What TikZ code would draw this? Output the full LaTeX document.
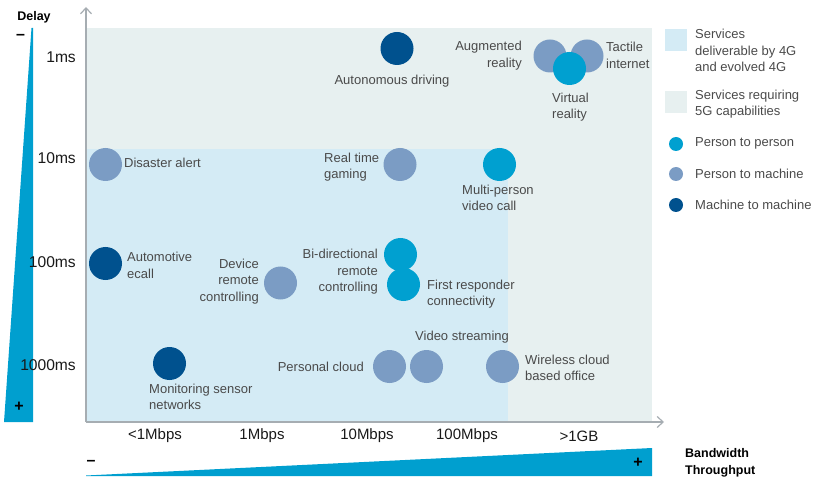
\documentclass[tikz,border=0pt]{standalone}
\usepackage{fontspec}
\setmainfont{Liberation Sans}
\usetikzlibrary{arrows.meta}
\definecolor{cPP}{HTML}{00A0D0}
\definecolor{cPM}{HTML}{7B9CC4}
\definecolor{cMM}{HTML}{00518E}
\definecolor{cTri}{HTML}{009FCF}
\definecolor{cFour}{HTML}{D4EBF5}
\definecolor{cFive}{HTML}{E7F0F0}
\definecolor{cTxt}{HTML}{4A4A4A}
\definecolor{cAxis}{HTML}{A6ADB2}
\tikzset{
  dot/.style={circle, inner sep=0pt, minimum size=33pt},
  pp/.style={dot, fill=cPP},
  pm/.style={dot, fill=cPM},
  mm/.style={dot, fill=cMM},
  lbl/.style={inner sep=0pt, text=cTxt, font=\fontsize{13}{16.5}\selectfont, align=left},
  lblr/.style={lbl, align=right, anchor=east},
  lbll/.style={lbl, anchor=west},
  axlbl/.style={inner sep=0pt, text=black!90, font=\fontsize{15}{18}\selectfont},
  yaxlbl/.style={axlbl, font=\fontsize{15.6}{18}\selectfont, anchor=east},
  boldlbl/.style={inner sep=0pt, text=black, font=\bfseries\fontsize{12.5}{17}\selectfont, align=left},
  sign/.style={inner sep=0pt, text=black, font=\bfseries\fontsize{16}{18}\selectfont},
  axisline/.style={draw=cAxis, line width=1.2pt, -{Straight Barb[length=6pt,width=11pt]}},
  legdot/.style={circle, inner sep=0pt, minimum size=14pt},
  legbox/.style={inner sep=0pt, minimum width=22pt, minimum height=22pt}
}
\begin{document}
\begin{tikzpicture}[x=1pt,y=-1pt]
\useasboundingbox (0,0) rectangle (816,478);
% regions
\fill[cFive] (86,28) rectangle (652,422);
\fill[cFour] (86,149) rectangle (508,422);
% gradient triangles
\fill[cTri] (4,422) -- (33,422) -- (33,28) -- (31.5,28) -- cycle;
\fill[cTri] (86,475.5) -- (652,448) -- (652,476) -- (86,476) -- cycle;
% axes
\coordinate (O) at (86,422);
\coordinate (Ytop) at (86,7);
\coordinate (Xend) at (664,422);
\draw[axisline] (O) -- (Ytop);
\draw[axisline] (O) -- (Xend);
% axis labels
\node[boldlbl, anchor=center] (delay) at (34,17) {Delay};
\node[sign] (yminus) at (20.5,37) {–};
\node[sign] (yplus) at (19,407) {+};
\node[sign] (xminus) at (91,463) {–};
\node[sign] (xplus) at (638,463) {+};
\node[boldlbl, anchor=west] (bw) at (685,462.5) {Bandwidth\\Throughput};
\node[yaxlbl] (y1) at (76,57) {1ms};
\node[yaxlbl] (y10) at (76,158) {10ms};
\node[yaxlbl] (y100) at (76,262) {100ms};
\node[yaxlbl] (y1000) at (76,365) {1000ms};
\node[axlbl] (x1) at (155,436) {<1Mbps};
\node[axlbl] (x2) at (262,436) {1Mbps};
\node[axlbl] (x3) at (367,436) {10Mbps};
\node[axlbl] (x4) at (467,436) {100Mbps};
\node[axlbl] (x5) at (579,436) {>1GB};
% circles
\node[mm] (auto) at (397,48.5) {};
\node[pm] (ar) at (550,56) {};
\node[pm] (ti) at (587,56) {};
\node[pp] (vr) at (569.5,68.5) {};
\node[pm] (dis) at (105.5,164.5) {};
\node[pm] (rtg) at (400,164.5) {};
\node[pp] (mpv) at (499.5,164.5) {};
\node[mm] (ecall) at (105.5,263.5) {};
\node[pm] (drc) at (280.5,283) {};
\node[pp] (bdr) at (400.5,254.5) {};
\node[pp] (frc) at (403.5,284.5) {};
\node[mm] (msn) at (169.5,363.5) {};
\node[pm] (pc) at (389.5,366.5) {};
\node[pm] (vs) at (426.5,366.5) {};
\node[pm] (wco) at (502.5,366.5) {};
% labels
\node[lbl] (autoL) at (392,81) {Autonomous driving};
\node[lblr] (arL) at (522,55.5) {Augmented\\reality};
\node[lbll] (tiL) at (606,55.5) {Tactile\\internet};
\node[lbll] (vrL) at (552,107) {Virtual\\reality};
\node[lbll] (disL) at (124,163) {Disaster alert};
\node[lbll] (rtgL) at (324,167) {Real time\\gaming};
\node[lbll] (mpvL) at (462,198) {Multi-person\\video call};
\node[lbll] (ecallL) at (127,265.5) {Automotive\\ecall};
\node[lblr] (drcL) at (259,281.5) {Device\\remote\\controlling};
\node[lblr] (bdrL) at (378,272) {Bi-directional\\remote\\controlling};
\node[lbll] (frcL) at (427,294) {First responder\\connectivity};
\node[lbll] (vsL) at (415,337) {Video streaming};
\node[lblr] (pcL) at (364,367) {Personal cloud};
\node[lbll] (msnL) at (149,397) {Monitoring sensor\\networks};
\node[lbll] (wcoL) at (525,368) {Wireless cloud\\based office};
% legend
\node[legbox, fill=cFour] (lg4) at (676,40) {};
\node[legbox, fill=cFive] (lg5) at (676,102) {};
\node[lbll] (lg4L) at (695,50.5) {Services\\deliverable by 4G\\and evolved 4G};
\node[lbll] (lg5L) at (695,104) {Services requiring\\5G capabilities};
\node[legdot, fill=cPP] (lgpp) at (676,144) {};
\node[legdot, fill=cPM] (lgpm) at (676,174) {};
\node[legdot, fill=cMM] (lgmm) at (676,205) {};
\node[lbll] (lgppL) at (695,143.5) {Person to person};
\node[lbll] (lgpmL) at (695,174) {Person to machine};
\node[lbll] (lgmmL) at (695,204.5) {Machine to machine};
\end{tikzpicture}
\end{document}
